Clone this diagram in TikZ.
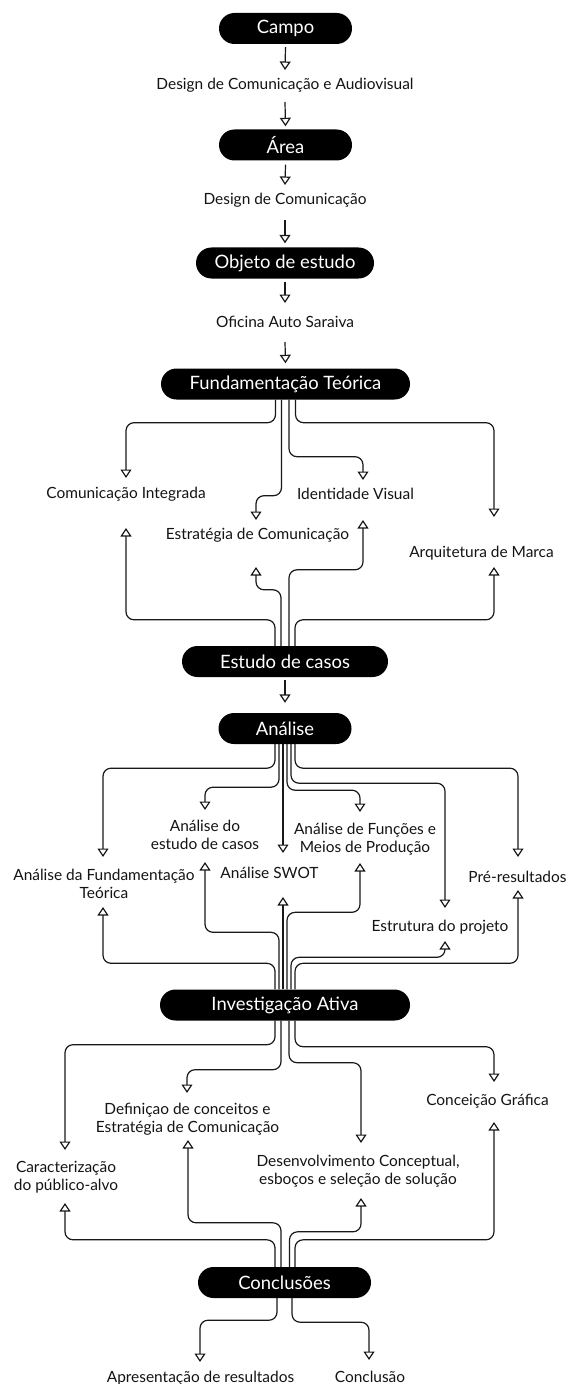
\documentclass[tikz,border=0pt]{standalone}
\usepackage{fontspec}
\setmainfont{Lato}
\usetikzlibrary{arrows.meta,calc,shapes.misc}
\begin{document}
\begin{tikzpicture}[x=1bp,y=-1bp,
 pill/.style={rounded rectangle, fill=black, text=white, minimum height=31bp, inner sep=0pt, font=\fontsize{18.5}{20}\selectfont},
 lbl/.style={align=center, inner sep=0pt, font=\fontsize{15.5}{18}\selectfont, text=black!92},
 arr/.style={draw=black!90, line width=1.2bp, rounded corners=8bp, -{Triangle[open,width=11bp,length=8.5bp]}}]
\useasboundingbox[fill=white] (0,0) rectangle (568,1384);

% pills
\node[pill, minimum width=133bp] (campo) at (285.5,28.5) {Campo};
\node[pill, minimum width=133bp] (area) at (285.5,145) {Área};
\node[pill, minimum width=178bp] (objeto) at (285,263) {Objeto de estudo};
\node[pill, minimum width=249bp] (ft) at (285.5,384) {Fundamentação Teórica};
\node[pill, minimum width=206bp] (estudo) at (285,661.5) {Estudo de casos};
\node[pill, minimum width=133bp] (analise) at (285,728.5) {Análise};
\node[pill, minimum width=250bp] (ia) at (285,1005) {Investigação Ativa};
\node[pill, minimum width=173bp] (concl) at (284.5,1282.5) {Conclusões};

% labels
\node[lbl] (dca) at (285,85) {Design de Comunicação e Audiovisual};
\node[lbl] (dc) at (285,200) {Design de Comunicação};
\node[lbl] (oas) at (285,322) {Oficina Auto Saraiva};
\node[lbl] (ci) at (126,494) {Comunicação Integrada};
\node[lbl] (ec) at (257.5,535) {Estratégia de Comunicação};
\node[lbl] (iv) at (355.5,494) {Identidade Visual};
\node[lbl] (am) at (481.5,553) {Arquitetura de Marca};
\node[lbl] (aft) at (104,883.5) {Análise da Fundamentação\\Teórica};
\node[lbl] (aec) at (205,835) {Análise do\\estudo de casos};
\node[lbl] (swot) at (269.5,873) {Análise SWOT};
\node[lbl] (afm) at (365,839) {Análise de Funções e\\Meios de Produção};
\node[lbl] (ep) at (440,927) {Estrutura do projeto};
\node[lbl] (pr) at (517.5,877) {Pré-resultados};
\node[lbl] (cpa) at (66,1177.5) {Caracterização\\do público-alvo};
\node[lbl] (dcec) at (187.5,1119) {Definiçao de conceitos e\\Estratégia de Comunicação};
\node[lbl] (dcs) at (358,1171.5) {Desenvolvimento Conceptual,\\esboços e seleção de solução};
\node[lbl] (cg) at (487.5,1101) {Conceição Gráfica};
\node[lbl] (ar) at (200.5,1378) {Apresentação de resultados};
\node[lbl] (conc) at (370,1377) {Conclusão};

% vertical chain
\draw[arr] ($(campo.south)+(0,3)$) -- ($(dca.center)+(0,-15)$);
\draw[arr] ($(dca.center)+(0,17)$) -- ($(area.north)+(0,-3)$);
\draw[arr] ($(area.south)+(0,4)$) -- ($(dc.center)+(0,-15)$);
\draw[arr] ($(dc.center)+(0,20)$) -- ($(objeto.north)+(0,-4)$);
\draw[arr] ($(objeto.south)+(0,3)$) -- ($(oas.center)+(0,-19)$);
\draw[arr] ($(oas.center)+(0,20)$) -- ($(ft.north)+(0,-5)$);
\draw[arr] ($(estudo.south)+(0,3)$) -- ($(analise.north)+(0,-10)$);

% Fundamentacao -> topics
\draw[arr] ($(ft.south)+(-10,0)$) -- ++(0,23) -| ($(ci.center)+(0,-16)$);
\draw[arr] ($(ft.south)+(-4,0)$) -- ++(0,96) -| ($(ec.center)+(-1.5,-15)$);
\draw[arr] ($(ft.south)+(3.5,0)$) -- ++(0,57) -| ($(iv.center)+(7.5,-14)$);
\draw[arr] ($(ft.south)+(10,0)$) -- ++(0,23) -| ($(am.center)+(12.5,-36)$);
% Estudo -> topics
\draw[arr] ($(estudo.north)+(-10,0)$) -- ++(0,-26) -| ($(ci.center)+(0,34)$);
\draw[arr] ($(estudo.north)+(-4,0)$) -- ++(0,-56) -| ($(ec.center)+(-1.5,32)$);
\draw[arr] ($(estudo.north)+(4,0)$) -- ++(0,-76) -| ($(iv.center)+(7.5,26)$);
\draw[arr] ($(estudo.north)+(10,0)$) -- ++(0,-26) -| ($(am.center)+(12.5,14)$);

% Analise -> topics
\coordinate (swotin) at ($(swot.center)+(13.5,-20)$);
\coordinate (swotout) at ($(swot.center)+(13.5,24)$);
\draw[arr] ($(analise.south)+(-10,0)$) -- ++(0,24) -| ($(aft.center)+(-1,-26.5)$);
\draw[arr] ($(analise.south)+(-6,0)$) -- ++(0,43) -| ($(aec.center)+(0,-25)$);
\draw[arr] (analise.south -| swotin) -- (swotin);
\draw[arr] ($(analise.south)+(2,0)$) -- ++(0,46) -| ($(afm.center)+(-5,-27)$);
\draw[arr] ($(analise.south)+(6,0)$) -- ++(0,39) -| ($(ep.center)+(5,-19)$);
\draw[arr] ($(analise.south)+(10,0)$) -- ++(0,24) -| ($(pr.center)+(0.5,-20)$);
% Investigacao -> topics (up)
\draw[arr] ($(ia.north)+(-10,0)$) -- ++(0,-26) -| ($(aft.center)+(-1,23.5)$);
\draw[arr] ($(ia.north)+(-6,0)$) -- ++(0,-57) -| ($(aec.center)+(0,27)$);
\draw[arr] (ia.north -| swotout) -- (swotout);
\draw[arr] ($(ia.north)+(2,0)$) -- ++(0,-77) -| ($(afm.center)+(-5,24)$);
\draw[arr] ($(ia.north)+(6,0)$) -- ++(0,-32) -| ($(ep.center)+(5,14)$);
\draw[arr] ($(ia.north)+(10,0)$) -- ++(0,-26) -| ($(pr.center)+(0.5,13)$);

% Investigacao -> topics (down)
\draw[arr] ($(ia.south)+(-10,0)$) -- ++(0,24) -| ($(cpa.center)+(-1,-27.5)$);
\draw[arr] ($(ia.south)+(-4,0)$) -- ++(0,49) -| ($(dcec.center)+(-0.5,-26)$);
\draw[arr] ($(ia.south)+(4,0)$) -- ++(0,42) -| ($(dcs.center)+(3,-28.5)$);
\draw[arr] ($(ia.south)+(10,0)$) -- ++(0,26) -| ($(cg.center)+(6.5,-19)$);
% Conclusoes -> topics (up)
\draw[arr] ($(concl.north)+(-9.5,0)$) -- ++(0,-27) -| ($(cpa.center)+(-1,25.5)$);
\draw[arr] ($(concl.north)+(-3.5,0)$) -- ++(0,-44) -| ($(dcec.center)+(0.5,21)$);
\draw[arr] ($(concl.north)+(5,0)$) -- ++(0,-35) -| ($(dcs.center)+(3,26.5)$);
\draw[arr] ($(concl.north)+(10.5,0)$) -- ++(0,-27) -| ($(cg.center)+(6.5,21)$);
% Conclusoes -> results
\draw[arr] ($(concl.south)+(-7.5,0)$) -- ++(0,22) -| ($(ar.center)+(-0.5,-16)$);
\draw[arr] ($(concl.south)+(7.5,0)$) -- ++(0,24) -| ($(conc.center)+(-1,-17)$);
\end{tikzpicture}
\end{document}
